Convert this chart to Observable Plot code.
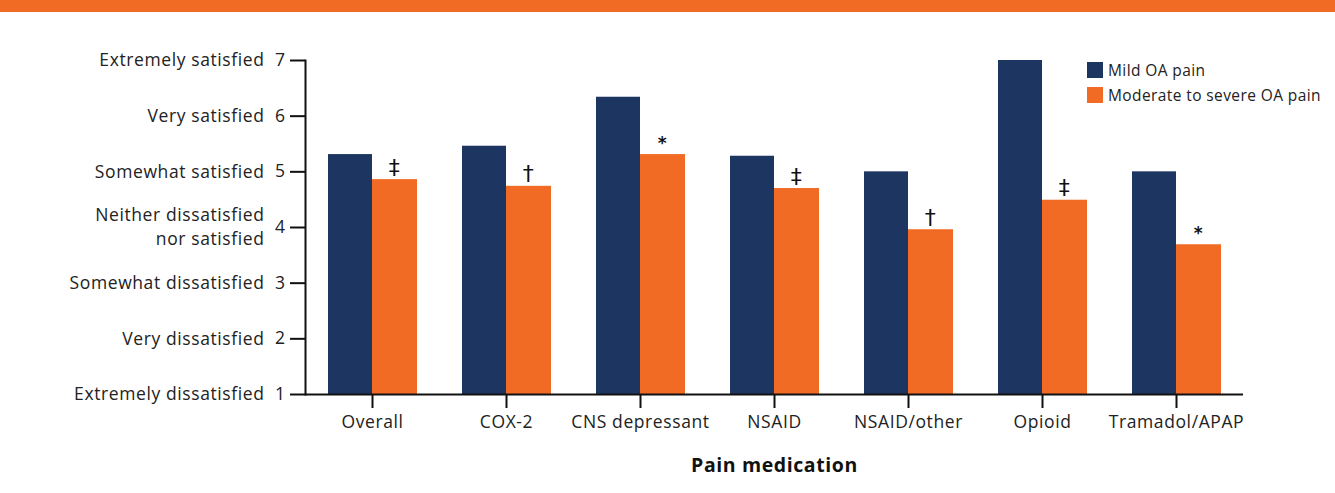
<!DOCTYPE html>
<html>
<head>
<meta charset="utf-8">
<script src="https://cdn.jsdelivr.net/npm/d3@7"></script>
<script src="https://cdn.jsdelivr.net/npm/@observablehq/plot@0.6"></script>
<style>
  body { margin: 0; background: #fff; }
  #wrap { position: relative; width: 1335px; height: 493px; overflow: hidden; font-family: "Open Sans", sans-serif; }
  #band { height: 12px; background: #F26B24; }
  #legend { position: absolute; left: 1087px; top: 57px; font-size: 15.5px; letter-spacing: 0.4px; color: #222; }
  #legend .row { display: flex; align-items: center; height: 25px; }
  #legend .sw { width: 16px; height: 16px; margin-right: 5px; flex: none; }
  svg text { letter-spacing: 0.6px; }
</style>
</head>
<body>
<div id="wrap">
  <div id="band"></div>
  <div id="chart"></div>
  <div id="legend"></div>
</div>
<script>
const categories = ["Overall", "COX-2", "CNS depressant", "NSAID", "NSAID/other", "Opioid", "Tramadol/APAP"];
const mild = [5.31, 5.46, 6.34, 5.28, 5.0, 7.0, 5.0];
const moderate = [4.86, 4.74, 5.31, 4.70, 3.96, 4.49, 3.69];
const marks = ["‡", "†", "*", "‡", "†", "‡", "*"];
const series = ["Mild OA pain", "Moderate to severe OA pain"];
const colors = ["#1C3661", "#F26B24"];
const yTicks = [1, 2, 3, 4, 5, 6, 7];
const yLabels = ["Extremely dissatisfied", "Very dissatisfied", "Somewhat dissatisfied",
  "Neither dissatisfied\nnor satisfied", "Somewhat satisfied", "Very satisfied", "Extremely satisfied"];

const data = categories.map((c, i) => ({cat: c, mild: mild[i], mod: moderate[i], sig: marks[i]}));

const FS = 17.5;
const chart = Plot.plot({
  width: 1335,
  height: 481,
  marginTop: 48,
  marginBottom: 99,
  marginLeft: 305,
  marginRight: 92,
  style: {fontFamily: "'Open Sans', sans-serif", fontSize: FS + "px", color: "#222"},
  x: {domain: categories, padding: 0},
  y: {domain: [1, 7]},
  marks: [
    Plot.barY(data, {x: "cat", y1: 1, y2: "mild", fill: colors[0], insetLeft: 23, insetRight: 67}),
    Plot.barY(data, {x: "cat", y1: 1, y2: "mod", fill: colors[1], insetLeft: 67, insetRight: 22}),
    Plot.text(data.filter(d => d.sig !== "*"), {x: "cat", y: "mod", text: "sig", dx: 22, dy: -5, lineAnchor: "bottom", fontSize: 22, fontFamily: "'DejaVu Sans', sans-serif", fill: "#111"}),
    Plot.text(data.filter(d => d.sig === "*"), {x: "cat", y: "mod", text: "sig", dx: 22, dy: -6, lineAnchor: "bottom", fontSize: 17, fontWeight: "bold", fontFamily: "'DejaVu Sans', sans-serif", fill: "#111"}),
    Plot.axisY({ticks: yTicks, tickFormat: d => String(d), tickSize: 15, tickPadding: 5, strokeWidth: 2, stroke: "#111", fontSize: FS, label: null}),
    Plot.axisY({ticks: yTicks, tickFormat: d => yLabels[d - 1], tickSize: 0, tickPadding: 41, dy: -2, fontSize: FS, lineHeight: 1.37, label: null}),
    Plot.axisX({tickSize: 14, tickPadding: 7, strokeWidth: 2, stroke: "#111", fontSize: FS,
      label: "Pain medication", labelAnchor: "center", labelOffset: 77, labelArrow: "none"}),
    Plot.ruleY([1], {stroke: "#111", strokeWidth: 2}),
    Plot.frame({anchor: "left", stroke: "#111", strokeWidth: 2})
  ]
});
document.getElementById("chart").appendChild(chart);
chart.querySelectorAll("g[aria-label='x-axis label'] text").forEach(t => {
  t.setAttribute("font-weight", "bold"); t.setAttribute("font-size", "19.5"); t.setAttribute("fill", "#111");
});

const legendEl = document.getElementById("legend");
series.forEach((s, i) => {
  const row = document.createElement("div");
  row.className = "row";
  const sw = document.createElement("div");
  sw.className = "sw";
  sw.style.background = colors[i];
  const lab = document.createElement("span");
  lab.textContent = s;
  row.appendChild(sw); row.appendChild(lab);
  legendEl.appendChild(row);
});
</script>
</body>
</html>
